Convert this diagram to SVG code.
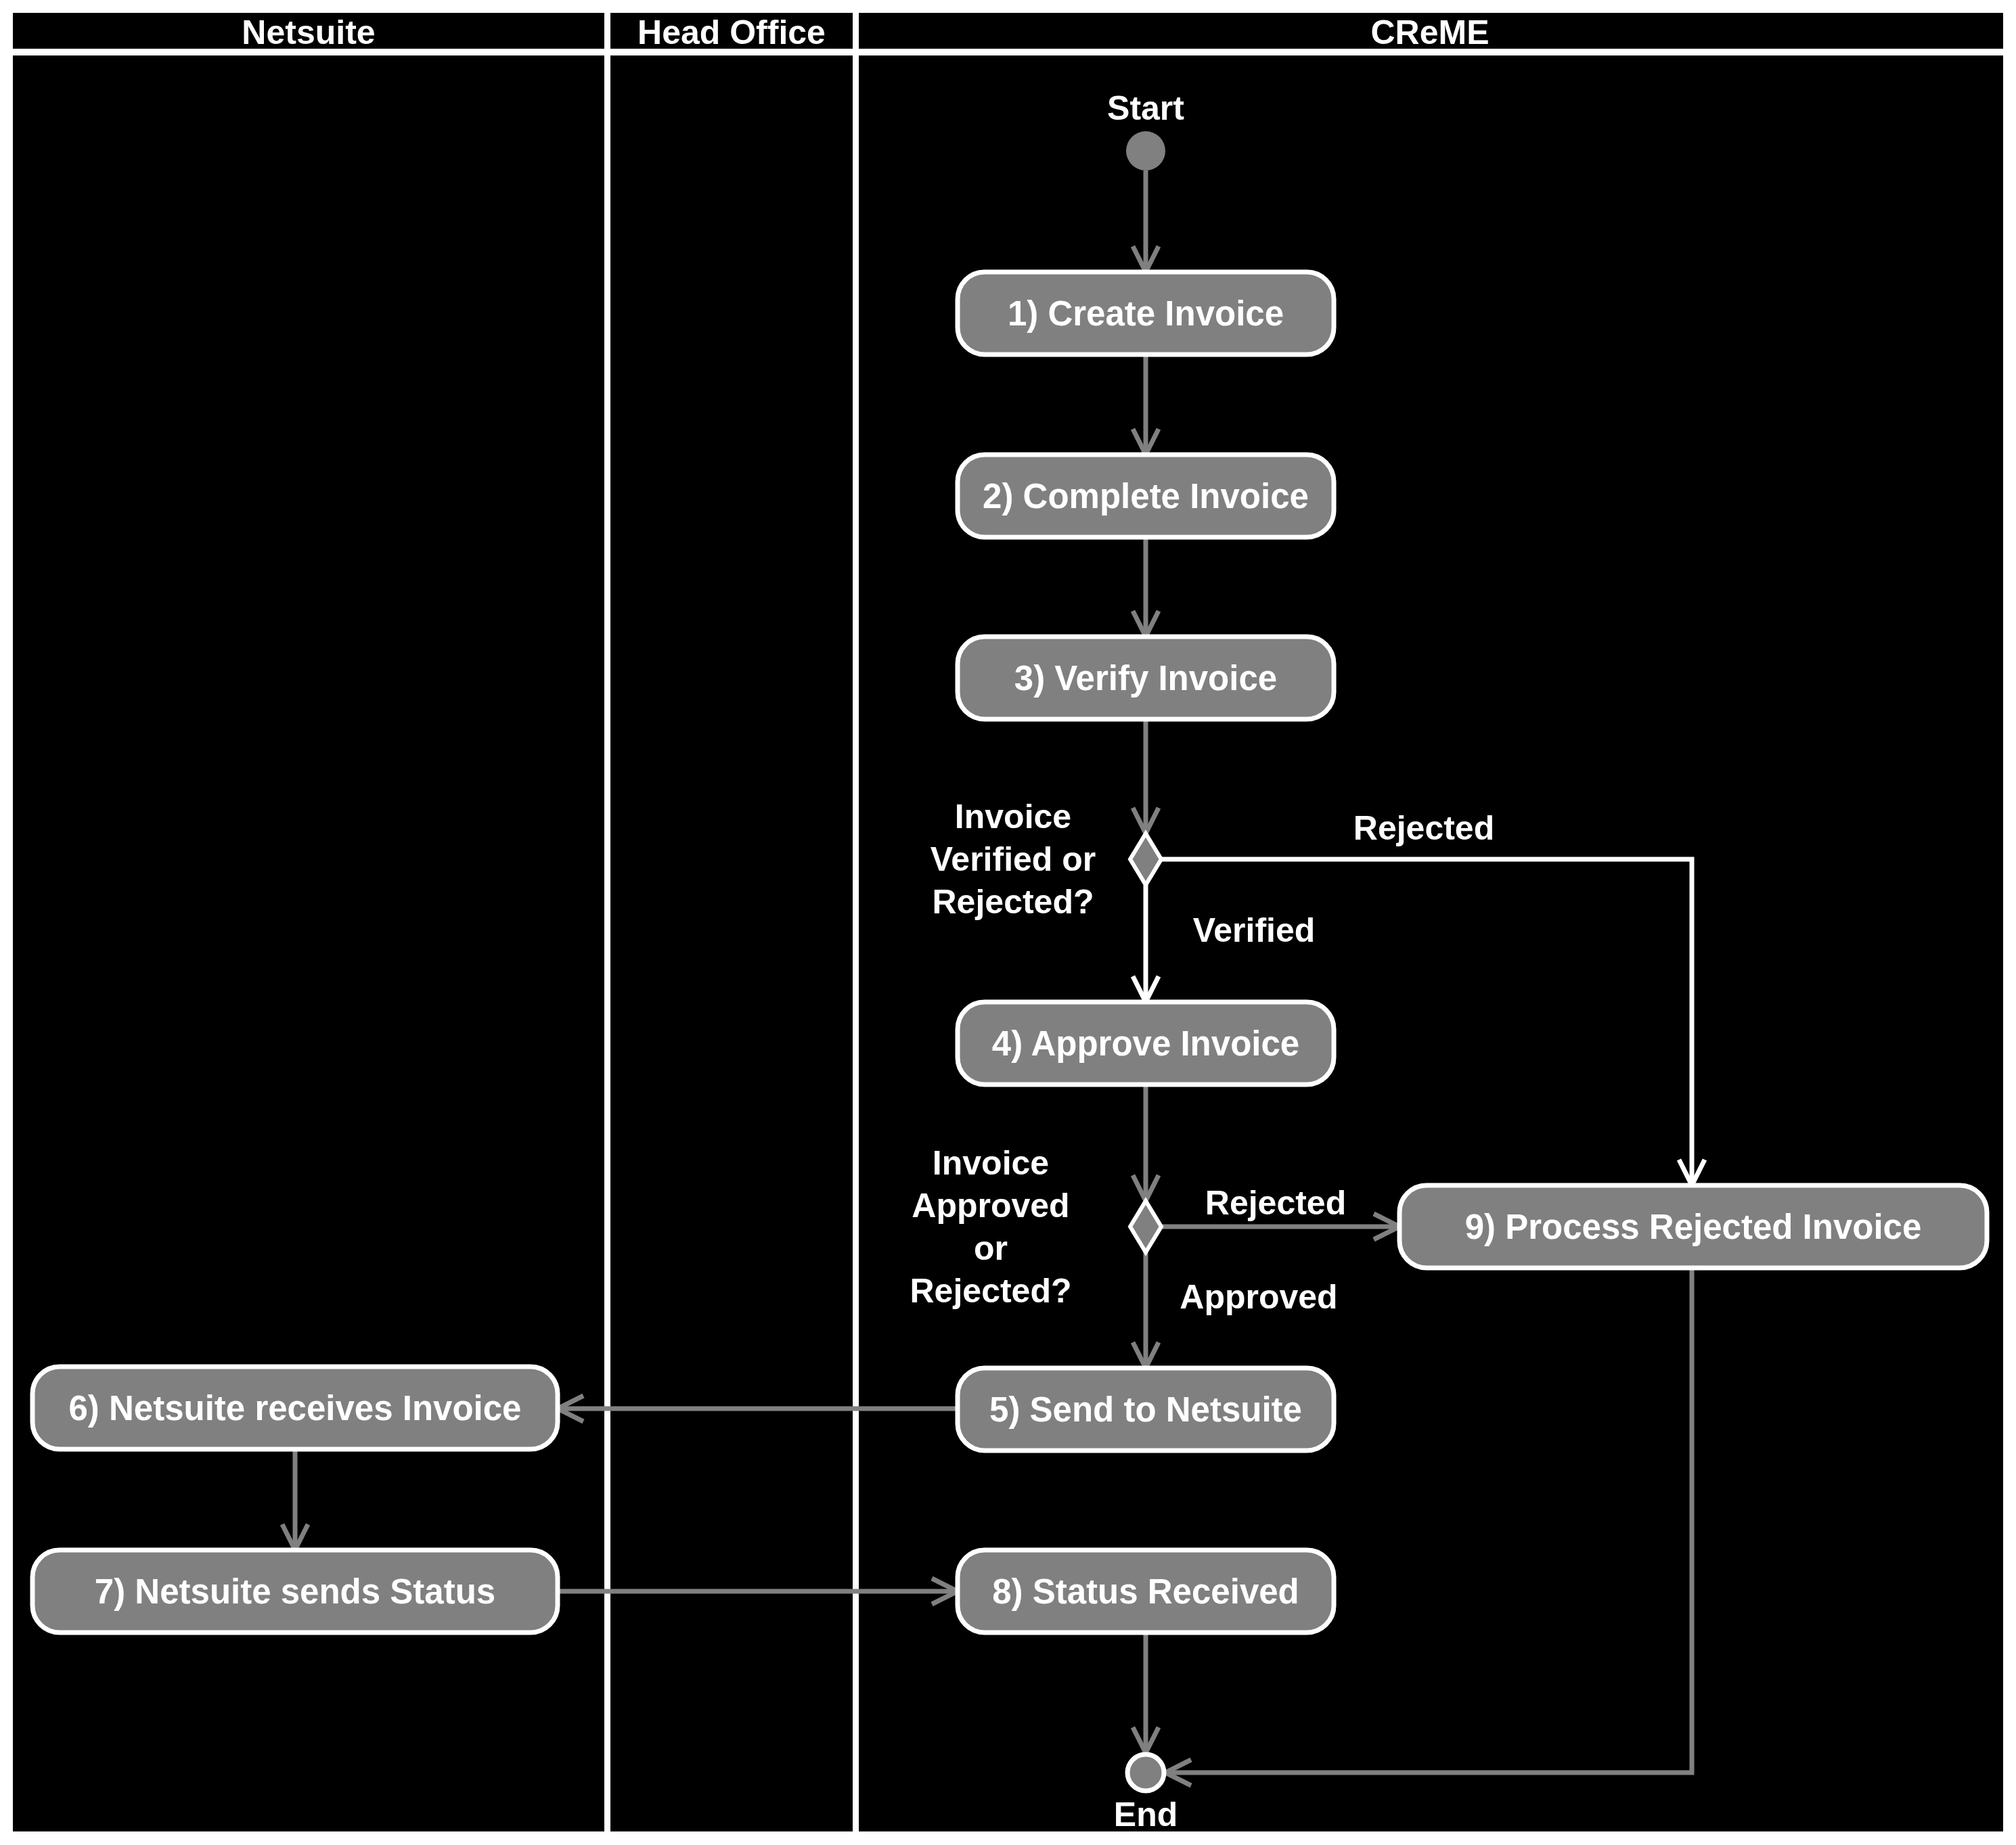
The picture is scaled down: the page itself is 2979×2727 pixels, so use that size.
<svg xmlns="http://www.w3.org/2000/svg" width="2979" height="2727" viewBox="0 0 2979 2727">
<style>
text{font-family:"Liberation Sans",Arial,sans-serif;font-weight:bold;fill:#fff;text-anchor:middle;dominant-baseline:central}
.n rect{fill:#808080;stroke:#fff;stroke-width:7}
.n text{font-size:51px}
.lbl{font-size:50px}
.g{stroke:#808080;stroke-width:7;fill:none}
.w{stroke:#fff;stroke-width:7;fill:none}
</style>
<defs>
<marker id="ag" markerUnits="userSpaceOnUse" markerWidth="60" markerHeight="60" refX="40" refY="30" orient="auto"><path d="M2,11 L40,30 L2,49" fill="none" stroke="#808080" stroke-width="7"/></marker>
<marker id="aw" markerUnits="userSpaceOnUse" markerWidth="60" markerHeight="60" refX="40" refY="30" orient="auto"><path d="M2,11 L40,30 L2,49" fill="none" stroke="#fff" stroke-width="7"/></marker>
</defs>
<rect width="2979" height="2727" fill="#fff"/>
<g id="lanes">
<rect x="19" y="19" width="2941" height="2688" fill="#000"/>
<rect x="19" y="72" width="2941" height="10" fill="#fff"/>
<rect x="893" y="19" width="9" height="2688" fill="#fff"/>
<rect x="1260" y="19" width="9" height="2688" fill="#fff"/>
<text x="456" y="48" class="lbl">Netsuite</text>
<text x="1081" y="48" class="lbl">Head Office</text>
<text x="2113" y="48" class="lbl">CReME</text>
</g>
<g id="connectors">
<path class="g" d="M1693,252 V402" marker-end="url(#ag)"/>
<path class="g" d="M1693,524 V672" marker-end="url(#ag)"/>
<path class="g" d="M1693,794 V941" marker-end="url(#ag)"/>
<path class="g" d="M1693,1063 V1232" marker-end="url(#ag)"/>
<path class="w" d="M1693,1308 V1481" marker-end="url(#aw)"/>
<path class="w" d="M1716,1270 H2500 V1752" marker-end="url(#aw)"/>
<path class="g" d="M1693,1603 V1775" marker-end="url(#ag)"/>
<path class="g" d="M1716,1813 H2068" marker-end="url(#ag)"/>
<path class="g" d="M1693,1851 V2022" marker-end="url(#ag)"/>
<path class="g" d="M1415,2082 H824" marker-end="url(#ag)"/>
<path class="g" d="M436,2142 V2291" marker-end="url(#ag)"/>
<path class="g" d="M824,2352 H1415" marker-end="url(#ag)"/>
<path class="g" d="M1693,2413 V2591" marker-end="url(#ag)"/>
<path class="g" d="M2500,1874 V2620 H1722" marker-end="url(#ag)"/>
<text x="2104" y="1224" class="lbl">Rejected</text>
<text x="1853" y="1375" class="lbl">Verified</text>
<text x="1885" y="1778" class="lbl">Rejected</text>
<text x="1860" y="1917" class="lbl">Approved</text>
</g>
<g id="start"><circle cx="1693" cy="223" r="29" fill="#808080"/><text x="1693" y="160" class="lbl">Start</text></g>
<g id="end"><circle cx="1693" cy="2620" r="27" fill="#808080" stroke="#fff" stroke-width="7"/><text x="1693" y="2682" class="lbl">End</text></g>
<g id="d1"><path d="M1693,1232 L1716,1270 L1693,1308 L1670,1270 Z" fill="#808080" stroke="#fff" stroke-width="6"/>
<text x="1497" y="1207" class="lbl">Invoice</text><text x="1497" y="1270" class="lbl">Verified or</text><text x="1497" y="1333" class="lbl">Rejected?</text></g>
<g id="d2"><path d="M1693,1775 L1716,1813 L1693,1851 L1670,1813 Z" fill="#808080" stroke="#fff" stroke-width="6"/>
<text x="1464" y="1719" class="lbl">Invoice</text><text x="1464" y="1782" class="lbl">Approved</text><text x="1464" y="1845" class="lbl">or</text><text x="1464" y="1908" class="lbl">Rejected?</text></g>
<g id="n1" class="n"><rect x="1415" y="402" width="556" height="122" rx="40"/><text x="1693" y="463">1) Create Invoice</text></g>
<g id="n2" class="n"><rect x="1415" y="672" width="556" height="122" rx="40"/><text x="1693" y="733">2) Complete Invoice</text></g>
<g id="n3" class="n"><rect x="1415" y="941" width="556" height="122" rx="40"/><text x="1693" y="1002">3) Verify Invoice</text></g>
<g id="n4" class="n"><rect x="1415" y="1481" width="556" height="122" rx="40"/><text x="1693" y="1542">4) Approve Invoice</text></g>
<g id="n5" class="n"><rect x="1415" y="2022" width="556" height="122" rx="40"/><text x="1693" y="2083">5) Send to Netsuite</text></g>
<g id="n6" class="n"><rect x="48" y="2020" width="776" height="122" rx="40"/><text x="436" y="2081">6) Netsuite receives Invoice</text></g>
<g id="n7" class="n"><rect x="48" y="2291" width="776" height="122" rx="40"/><text x="436" y="2352">7) Netsuite sends Status</text></g>
<g id="n8" class="n"><rect x="1415" y="2291" width="556" height="122" rx="40"/><text x="1693" y="2352">8) Status Received</text></g>
<g id="n9" class="n"><rect x="2068" y="1752" width="868" height="122" rx="40"/><text x="2502" y="1813">9) Process Rejected Invoice</text></g>
</svg>
